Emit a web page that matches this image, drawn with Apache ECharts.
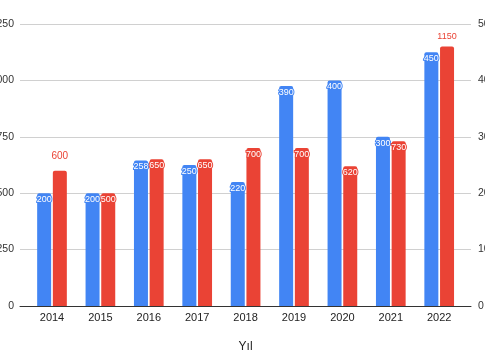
<!DOCTYPE html>
<html><head><meta charset="utf-8">
<script src="https://cdn.jsdelivr.net/npm/echarts@6/dist/echarts.min.js"></script>
<style>html,body{margin:0;padding:0;background:#fff}#c{width:485px;height:360px}</style>
</head><body><div id="c"></div>
<script>
const categories = ['2014','2015','2016','2017','2018','2019','2020','2021','2022'];
const blueValues = [200, 200, 258, 250, 220, 390, 400, 300, 450];
const redValues = [600, 500, 650, 650, 700, 700, 620, 730, 1150];
const leftTicks = [0, 250, 500, 750, 1000, 1250];
const rightTicks = [0, 100, 200, 300, 400, 500];
const axisName = 'Yıl';

const BLUE = '#4285F4', RED = '#EA4335';
const FONT = 'Liberation Sans, Arial, sans-serif';

const redOutside = { 0: { fontSize: 10, distance: 9 }, 8: { fontSize: 9, distance: 6 } };

const chart = echarts.init(document.getElementById('c'), null, { renderer: 'canvas' });
chart.setOption({
  animation: false,
  textStyle: { fontFamily: FONT },
  grid: [
    { left: 20, right: 14, top: 24, bottom: 54, containLabel: false, outerBoundsMode: 'none' },
    { left: 27.8, right: 21.6, top: 24, bottom: 54, containLabel: false, outerBoundsMode: 'none' }
  ],
  xAxis: [
    { gridIndex: 0, type: 'category', data: categories, axisLabel: { show: false }, axisTick: { show: false },
      axisLine: { show: true, lineStyle: { color: '#333', width: 1 } } },
    { gridIndex: 1, type: 'category', data: categories, axisTick: { show: false }, axisLine: { show: false },
      axisLabel: { color: '#222', fontSize: 11, margin: 6, fontFamily: FONT },
      name: axisName, nameLocation: 'middle', nameGap: 35,
      nameTextStyle: { color: '#222', fontSize: 12, fontFamily: FONT } }
  ],
  yAxis: [
    { gridIndex: 0, type: 'value', min: leftTicks[0], max: leftTicks[leftTicks.length - 1], interval: 250, position: 'left',
      axisLine: { show: false }, axisTick: { show: false },
      axisLabel: { color: '#333', fontSize: 10.5, margin: 6, fontFamily: FONT, formatter: v => String(v) },
      splitLine: { lineStyle: { color: '#d0d0d0', width: 1 } } },
    { gridIndex: 0, type: 'value', min: rightTicks[0], max: rightTicks[rightTicks.length - 1], interval: 100, position: 'right',
      axisLine: { show: false }, axisTick: { show: false },
      axisLabel: { color: '#333', fontSize: 10.5, margin: 7, fontFamily: FONT, formatter: v => String(v) },
      splitLine: { show: false } },
    { gridIndex: 1, type: 'value', min: 0, max: 1250, show: false, splitLine: { show: false } },
    { gridIndex: 1, type: 'value', min: 0, max: 500, show: false, splitLine: { show: false } }
  ],
  series: [
    { type: 'bar', xAxisIndex: 1, yAxisIndex: 3, data: blueValues, barWidth: 14, barGap: '12%',
      itemStyle: { color: BLUE, borderRadius: [2, 2, 0, 0] },
      label: { show: true, position: 'insideTop', distance: 2, color: '#fff', fontSize: 9,
        textBorderColor: BLUE, textBorderWidth: 2, fontFamily: FONT } },
    { type: 'bar', xAxisIndex: 1, yAxisIndex: 2, barWidth: 14,
      data: redValues.map((v, i) => redOutside[i]
        ? { value: v, label: { position: 'top', distance: redOutside[i].distance, color: RED, fontSize: redOutside[i].fontSize, textBorderWidth: 0 } }
        : v),
      itemStyle: { color: RED, borderRadius: [2, 2, 0, 0] },
      label: { show: true, position: 'insideTop', distance: 2, color: '#fff', fontSize: 9,
        textBorderColor: RED, textBorderWidth: 2, fontFamily: FONT } }
  ]
});
</script></body></html>
